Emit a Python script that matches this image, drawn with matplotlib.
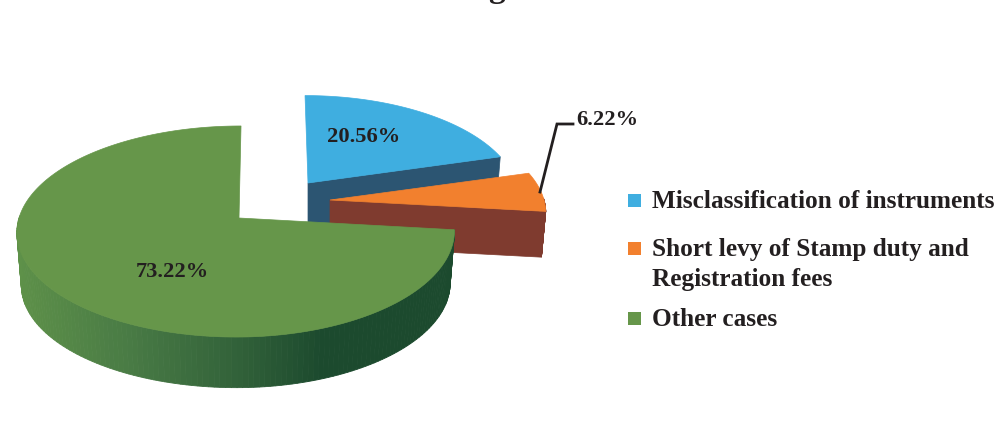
import numpy as np
import matplotlib
matplotlib.use("Agg")
import matplotlib.pyplot as plt
from matplotlib.patches import Rectangle
from matplotlib.colors import to_rgb

categories = ["Misclassification of instruments",
              "Short levy of Stamp duty and\nRegistration fees",
              "Other cases"]
values = [20.56, 6.22, 73.22]
top_colors = ["#3FAEE0", "#F2802E", "#66964A"]
cut_colors = ["#2C5572", "#7F3B2F", "#1C4A2E"]
INK = "#231F20"
plt.rcParams["font.family"] = ["Liberation Serif", "DejaVu Serif"]

# Layout of the exploded, perspective pie (pixel space of the figure)
apex = [(308, 183), (330, 200), (239, 218)]
shear = [0.034, 0.0, -0.022]
rx_right = [208, 214, 214]
rx_left = 220
ry_base, k = 103.8, 0.128
ry_scale = [0.95, 0.97, 1.0]
depths = [46, 46, 53]
shrink = 0.98

fig = plt.figure(figsize=(9.98, 4.32), dpi=100, facecolor="white")
ax = fig.add_axes([0, 0, 1, 1])
ax.set_xlim(0, 998)
ax.set_ylim(432, 0)
ax.axis("off")

edges = np.concatenate([[0], np.cumsum(values)]) / sum(values) * 2 * np.pi


def project(i, theta, lower=False):
    theta = np.atleast_1d(theta)
    w = 1 + k * np.cos(theta)
    s = np.sin(theta)
    rx = np.where(s >= 0, rx_right[i], rx_left)
    dx = rx * s / w
    dy = -ry_base * ry_scale[i] * np.cos(theta) / w
    ax0, ay0 = apex[i]
    x = ax0 + dx + shear[i] * dy
    y = ay0 + dy
    if lower:
        x = ax0 + (x - ax0) * shrink
        y = ay0 + depths[i] + (y - ay0) * shrink
    return x, y


def green_side(x):
    stops_x = [16, 130, 235, 325, 460]
    stops_c = [to_rgb("#5E9149"), to_rgb("#497B45"), to_rgb("#33633A"),
               to_rgb("#1C4A2E"), to_rgb("#1C4A2E")]
    return [np.interp(x, stops_x, [c[j] for c in stops_c]) for j in range(3)]


for i in range(len(values)):
    t0, t1 = edges[i], edges[i + 1]
    th = np.linspace(t0, t1, 200)
    # cut face at the end of the slice (only the two right-hand slices show it)
    if i < 2:
        xe, ye = project(i, t1)
        xl, yl = project(i, t1, lower=True)
        ax.fill([apex[i][0], xe[0], xl[0], apex[i][0]],
                [apex[i][1], ye[0], yl[0], apex[i][1] + depths[i]],
                color=cut_colors[i], lw=0.5, zorder=2 + i)
    # outer rim
    xt, yt = project(i, th)
    xb, yb = project(i, th, lower=True)
    for j in range(len(th) - 1):
        if np.cos(th[j]) > 0.02 or i == 0:
            continue
        col = green_side(xt[j]) if i == 2 else cut_colors[i]
        ax.fill([xt[j], xt[j + 1], xb[j + 1], xb[j]],
                [yt[j], yt[j + 1], yb[j + 1], yb[j]],
                color=col, lw=0.6, zorder=2 + i)
    # top face
    ax.fill(np.r_[apex[i][0], xt], np.r_[apex[i][1], yt],
            color=top_colors[i], lw=0.5, zorder=3 + i)

# data labels
label_font = dict(fontsize=16.2, fontweight="bold", color=INK, zorder=10,
                  ha="center", va="center")
ax.text(364, 137, f"{values[0]:.2f}%", **label_font)
ax.text(172, 272, f"{values[2]:.2f}%", **label_font)
ax.text(607, 120, f"{values[1]:.2f}%", **label_font)
ax.plot([540, 557, 573], [192, 124, 124], color=INK, lw=2, zorder=9,
        solid_joinstyle="miter")

# remains of the cropped title
ax.text(497, -3, "g", fontsize=24, fontweight="bold", color=INK,
        ha="center", va="baseline", clip_on=False)

# legend
legend_y = [200.5, 248.5, 318.5]
baseline_y = [208, 256, 326.5]
for cat, col, yc, yb in zip(categories, top_colors, legend_y, baseline_y):
    ax.add_patch(Rectangle((628, yc - 6.5), 13, 13, facecolor=col, edgecolor="none"))
    lines = cat.split("\n")
    for n, line in enumerate(lines):
        ax.text(652, yb + 30 * n, line, fontsize=18.2, fontweight="bold",
                color=INK, ha="left", va="baseline")

fig.savefig("out.png", dpi=100)
